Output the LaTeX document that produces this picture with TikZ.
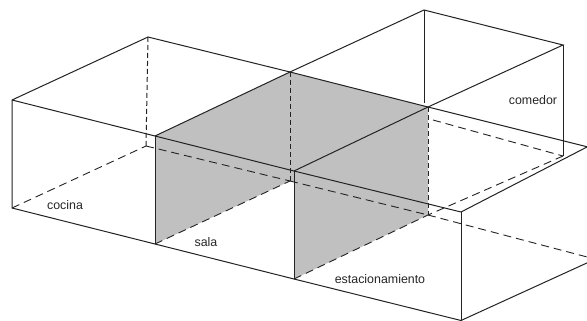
\documentclass[tikz,border=0pt]{standalone}
\usepackage{fontspec}
\setmainfont{Liberation Sans}
\definecolor{wallgrey}{RGB}{192,192,192}
\definecolor{edge}{RGB}{35,35,35}
\tikzset{
  solidedge/.style={draw=edge,line width=1pt},
  hiddenedge/.style={draw=edge,line width=0.9pt,dash pattern=on 8pt off 5pt},
  hiddenpost/.style={draw=edge,line width=1pt,dash pattern=on 5pt off 3pt},
  roomlabel/.style={font=\fontsize{12.4}{14}\selectfont,text=black!85,inner sep=0pt}
}
\begin{document}
\begin{tikzpicture}[x=1pt,y=-1pt]
\path[use as bounding box] (0,0) rectangle (587,321);
\clip (0,0) rectangle (587,321);
\fill[white] (0,0) rectangle (587,321);
% upper corners
\coordinate (a) at (12,100);
\coordinate (b) at (148,37);
\coordinate (c) at (155,136);
\coordinate (d) at (290,72);
\coordinate (e) at (294,171);
\coordinate (f) at (424,10);
\coordinate (g) at (428,107);
\coordinate (h) at (563,45);
\coordinate (i) at (461,212);
\coordinate (j) at (600,140.3);
% lower corners
\coordinate (a2) at (12,208);
\coordinate (b2) at (146,146);
\coordinate (c2) at (155,244);
\coordinate (d2) at (290,181);
\coordinate (e2) at (294,279);
\coordinate (f2) at (424,103);
\coordinate (g2) at (428,215);
\coordinate (g3) at (433,120);
\coordinate (h2) at (563,156);
\coordinate (i2) at (461,320.5);
\coordinate (j2) at (600,257);
\coordinate (k2) at (600,260.4);
\coordinate (m) at (600,150);
% grey walls and roof
\fill[wallgrey] (c) -- (d) -- (g) -- (g2) -- (e2) -- (e |- d2) -- (d2) -- (c2) -- cycle;
% hidden edges
\draw[hiddenpost] (b) -- (b2);
\draw[hiddenedge] (a2) -- (b2);
\draw[hiddenedge] (b2) -- (d2);
\draw[hiddenpost] (d) -- (d2);
\draw[hiddenedge] (c2) -- (d2);
\draw[hiddenedge] (d2) -- (g2);
\draw[hiddenedge] (e2) -- (g2);
\draw[hiddenpost] (g) -- (g2);
\draw[hiddenedge] (g3) -- (h2);
\draw[hiddenedge] (h2) -- (g2);
\draw[hiddenedge] (g2) -- (k2);
% visible edges
\draw[solidedge] (a) -- (b) -- (d) -- (f) -- (h) -- (g) -- (e) -- (c) -- (a);
\draw[solidedge] (c) -- (d) -- (g);
\draw[solidedge] (f) -- (f2);
\draw[solidedge] (g) -- (m);
\draw[solidedge] (e) -- (i);
\draw[solidedge] (i) -- (j);
\draw[solidedge] (a) -- (a2) -- (c2) -- (e2) -- (i2) -- (j2);
\draw[solidedge] (c) -- (c2);
\draw[solidedge] (e) -- (e2);
\draw[solidedge] (h) -- (h2);
\draw[solidedge] (i) -- (i2);
% labels
\node[roomlabel] (cocina) at (65,205) {cocina};
\node[roomlabel] (sala) at (206,242) {sala};
\node[roomlabel] (estac) at (380,279.5) {estacionamiento};
\node[roomlabel] (comedor) at (533,100.5) {comedor};
\end{tikzpicture}
\end{document}
